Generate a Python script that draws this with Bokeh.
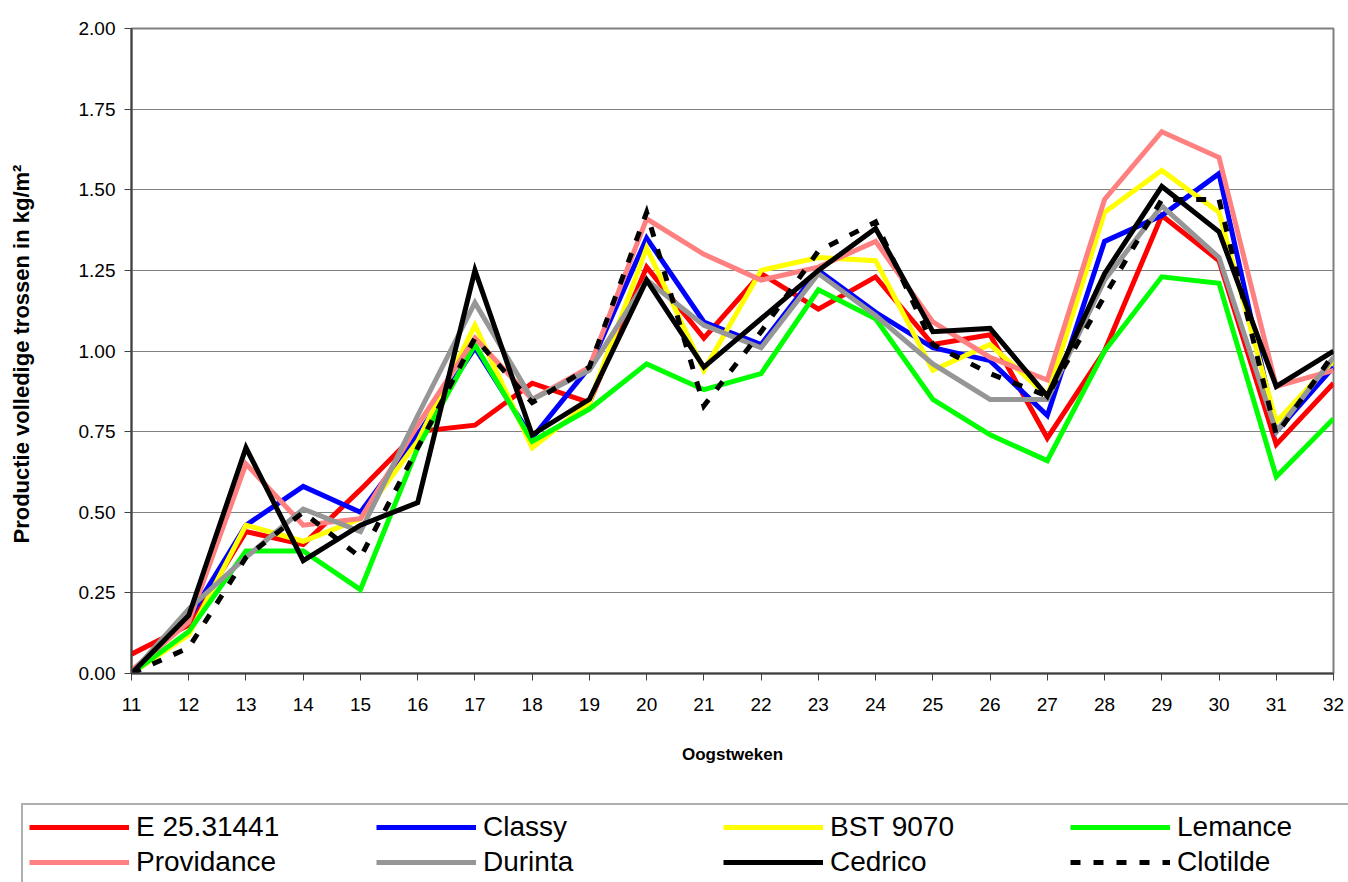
from bokeh.plotting import figure
from bokeh.models import Legend, LegendItem, FixedTicker, NumeralTickFormatter, ColumnDataSource
from bokeh.embed import file_html
from bokeh.resources import INLINE

weeks = list(range(11, 33))

series_names = ["E 25.31441", "Classy", "BST 9070", "Lemance",
                "Providance", "Durinta", "Cedrico", "Clotilde"]

e25 = [0.06, 0.15, 0.44, 0.40, 0.57, 0.75, 0.77, 0.90, 0.84, 1.26, 1.04,
       1.24, 1.13, 1.23, 1.02, 1.05, 0.73, 1.00, 1.42, 1.28, 0.71, 0.90]
classy = [0.00, 0.17, 0.46, 0.58, 0.50, 0.74, 1.01, 0.73, 0.95, 1.35, 1.09,
          1.02, 1.25, 1.12, 1.01, 0.97, 0.80, 1.34, 1.42, 1.55, 0.75, 0.95]
bst9070 = [0.00, 0.12, 0.46, 0.41, 0.48, 0.72, 1.08, 0.70, 0.84, 1.32, 0.94,
           1.25, 1.29, 1.28, 0.94, 1.02, 0.86, 1.43, 1.56, 1.43, 0.78, 0.97]
lemance = [0.00, 0.13, 0.38, 0.38, 0.26, 0.70, 1.02, 0.72, 0.82, 0.96, 0.88,
           0.93, 1.19, 1.10, 0.85, 0.74, 0.66, 1.00, 1.23, 1.21, 0.61, 0.79]
providance = [0.01, 0.16, 0.65, 0.46, 0.48, 0.77, 1.04, 0.85, 0.95, 1.41, 1.30,
              1.22, 1.26, 1.34, 1.09, 0.98, 0.91, 1.47, 1.68, 1.60, 0.89, 0.94]
durinta = [0.00, 0.20, 0.36, 0.51, 0.44, 0.80, 1.15, 0.85, 0.94, 1.22, 1.08,
           1.01, 1.24, 1.11, 0.96, 0.85, 0.85, 1.22, 1.45, 1.29, 0.75, 0.98]
cedrico = [0.00, 0.18, 0.70, 0.35, 0.46, 0.53, 1.25, 0.74, 0.85, 1.22, 0.95,
           1.10, 1.25, 1.38, 1.06, 1.07, 0.86, 1.24, 1.51, 1.37, 0.89, 1.00]
clotilde = [0.00, 0.08, 0.36, 0.50, 0.36, 0.70, 1.04, 0.84, 0.95, 1.43, 0.83,
            1.06, 1.31, 1.40, 1.02, 0.93, 0.86, 1.17, 1.47, 1.47, 0.74, 0.99]

series_values = [e25, classy, bst9070, lemance, providance, durinta, cedrico, clotilde]
colors = ["#FF0000", "#0000FF", "#FFFF00", "#00FF00",
          "#FF8080", "#969696", "#000000", "#000000"]
dashes = ["solid"] * 7 + ["10 13"]

y_ticks = [0.0, 0.25, 0.5, 0.75, 1.0, 1.25, 1.5, 1.75, 2.0]

FONT = "Liberation Sans"

# ---------------- main chart ----------------
p = figure(width=1348, height=803, x_range=(11, 32), y_range=(0, 2),
           output_backend="svg", toolbar_location=None,
           min_border_left=131, min_border_right=15, min_border_top=28,
           min_border_bottom=130)
p.background_fill_color = "white"
p.border_fill_color = "white"
p.outline_line_color = "#808080"
p.outline_line_width = 2

for name, vals, col, dash in zip(series_names, series_values, colors, dashes):
    src = ColumnDataSource(dict(x=weeks, y=vals))
    p.line("x", "y", source=src, line_color=col, line_width=5,
           line_dash=dash, line_join="miter", line_cap="butt")

p.xaxis.ticker = FixedTicker(ticks=weeks)
p.yaxis.ticker = FixedTicker(ticks=y_ticks)
p.yaxis.formatter = NumeralTickFormatter(format="0.00")
p.xaxis.minor_tick_line_color = None
p.yaxis.minor_tick_line_color = None
for ax in (p.xaxis, p.yaxis):
    ax.axis_line_color = "#404040"
    ax.axis_line_width = 2
    ax.major_tick_line_color = "#404040"
    ax.major_tick_line_width = 1
    ax.major_tick_out = 7
    ax.major_tick_in = 0
    ax.major_label_text_font = FONT
    ax.major_label_text_font_size = "19px"
    ax.major_label_text_color = "black"
    ax.axis_label_text_font = FONT
    ax.axis_label_text_font_style = "bold"
    ax.axis_label_text_color = "black"

p.yaxis.major_label_standoff = 9
p.xaxis.major_label_standoff = 17
p.yaxis.axis_label = "Productie volledige trossen  in kg/m\u00b2"
p.yaxis.axis_label_text_font_size = "22px"
p.yaxis.axis_label_standoff = 42
p.xaxis.axis_label = "Oogstweken"
p.xaxis.axis_label_text_font_size = "17px"
p.xaxis.axis_label_standoff = 31

p.xgrid.grid_line_color = None
p.ygrid.grid_line_color = "#808080"
p.ygrid.grid_line_width = 1

# ---------------- legend strip (separate root, no frame alignment) ----------------
pl = figure(width=1348, height=79, x_range=(1000, 1001), y_range=(1000, 1001),
            output_backend="svg", toolbar_location=None,
            x_axis_location=None, y_axis_location=None,
            min_border_left=21, min_border_right=0, min_border_top=0,
            min_border_bottom=0)
pl.grid.grid_line_color = None
pl.outline_line_color = None
pl.background_fill_color = "white"
pl.border_fill_color = "white"

items = []
for name, vals, col, dash in zip(series_names, series_values, colors, dashes):
    src = ColumnDataSource(dict(x=weeks, y=vals))
    r = pl.line("x", "y", source=src, line_color=col, line_width=5,
                line_dash=dash, line_join="miter", line_cap="butt")
    items.append(LegendItem(label=name, renderers=[r]))

legend = Legend(items=items, orientation="horizontal", ncols=4,
                location="top_left")
legend.label_text_font = FONT
legend.label_text_font_size = "28px"
legend.label_text_color = "black"
legend.glyph_width = 100
legend.glyph_height = 26
legend.label_height = 26
legend.label_standoff = 7
legend.label_width = 237
legend.spacing = 3
legend.padding = 6
legend.margin = 0
legend.border_line_color = "#606060"
legend.border_line_width = 2
legend.background_fill_color = "white"
legend.background_fill_alpha = 1.0
pl.add_layout(legend, "center")

open("out.html", "w").write(file_html([p, pl], INLINE))
